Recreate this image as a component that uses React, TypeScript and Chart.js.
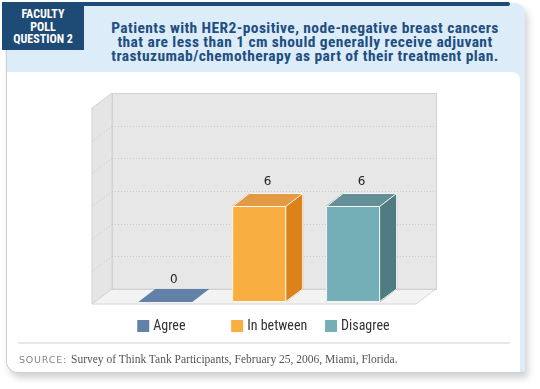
import React, { useEffect, useRef } from "react";
import { Chart, registerables } from "chart.js";

Chart.register(...registerables);

const categories = ["Agree", "In between", "Disagree"];
const values = [0, 6, 6];
const yMax = 12;
const yStep = 2;
const frontColors = ["#6181a9", "#f9ae41", "#74aeb6"];
const topColors = ["#6181a9", "#e39a45", "#638f96"];
const sideColors = ["#4f6d94", "#dc821a", "#4e7c80"];

const titleLines = [
  "Patients with HER2-positive, node-negative breast cancers",
  "that are less than 1 cm should generally receive adjuvant",
  "trastuzumab/chemotherapy as part of their treatment plan.",
];
const badgeLines = ["FACULTY", "POLL", "QUESTION 2"];
const sourceLabel = "SOURCE:";
const sourceText = "Survey of Think Tank Participants, February 25, 2006, Miami, Florida.";

const NARROW = "'Liberation Sans Narrow', 'Roboto Condensed', Roboto, sans-serif";

const WALL_DX = 20;
const WALL_DY = 15;
const BAR_DX = 17;
const BAR_DY = 13;

const threeD = {
  id: "threeD",
  beforeDatasetsDraw(chart: any) {
    const { ctx, chartArea } = chart;
    const { left: L, right: R, top: T, bottom: B } = chartArea;
    const yScale = chart.scales.y;
    ctx.save();
    // back wall
    ctx.fillStyle = "#e7e7e7";
    ctx.fillRect(L + WALL_DX, T - WALL_DY, R - L, B - T);
    // left wall
    ctx.beginPath();
    ctx.moveTo(L, T);
    ctx.lineTo(L + WALL_DX, T - WALL_DY);
    ctx.lineTo(L + WALL_DX, B - WALL_DY);
    ctx.lineTo(L, B);
    ctx.closePath();
    ctx.fillStyle = "#e5e5e5";
    ctx.fill();
    ctx.strokeStyle = "#d2d2d2";
    ctx.lineWidth = 1;
    ctx.stroke();
    // floor
    ctx.beginPath();
    ctx.moveTo(L, B);
    ctx.lineTo(R, B);
    ctx.lineTo(R + WALL_DX, B - WALL_DY);
    ctx.lineTo(L + WALL_DX, B - WALL_DY);
    ctx.closePath();
    ctx.fillStyle = "#f3f3f3";
    ctx.fill();
    ctx.strokeStyle = "#d6d6d6";
    ctx.stroke();
    // back wall border
    ctx.strokeStyle = "#d2d2d2";
    ctx.strokeRect(L + WALL_DX + 0.5, T - WALL_DY + 0.5, R - L, B - T);
    // gridlines
    ctx.setLineDash([1, 2]);
    ctx.strokeStyle = "#c9c9c9";
    for (let v = yStep; v < yMax; v += yStep) {
      const y = Math.round(yScale.getPixelForValue(v)) + 0.5;
      ctx.beginPath();
      ctx.moveTo(L + WALL_DX, y - WALL_DY);
      ctx.lineTo(R + WALL_DX, y - WALL_DY);
      ctx.stroke();
      ctx.beginPath();
      ctx.moveTo(L, y);
      ctx.lineTo(L + WALL_DX, y - WALL_DY);
      ctx.stroke();
    }
    ctx.restore();
  },
  afterDatasetsDraw(chart: any) {
    const { ctx, chartArea } = chart;
    const meta = chart.getDatasetMeta(0);
    ctx.save();
    meta.data.forEach((bar: any, i: number) => {
      const { x, y, base, width } = bar.getProps(["x", "y", "base", "width"], true);
      const x0 = x - width / 2;
      const by = base - 2;
      const hasBody = values[i] > 0;
      const yt = hasBody ? y : by;
      // front
      if (hasBody) {
        ctx.fillStyle = frontColors[i];
        ctx.fillRect(x0, yt, width, by - yt);
      }
      // top
      ctx.beginPath();
      ctx.moveTo(x0, yt);
      ctx.lineTo(x0 + width, yt);
      ctx.lineTo(x0 + width + BAR_DX, yt - BAR_DY);
      ctx.lineTo(x0 + BAR_DX, yt - BAR_DY);
      ctx.closePath();
      ctx.fillStyle = topColors[i];
      ctx.fill();
      if (hasBody) {
        // side
        ctx.beginPath();
        ctx.moveTo(x0 + width, yt);
        ctx.lineTo(x0 + width + BAR_DX, yt - BAR_DY);
        ctx.lineTo(x0 + width + BAR_DX, by - BAR_DY);
        ctx.lineTo(x0 + width, by);
        ctx.closePath();
        ctx.fillStyle = sideColors[i];
        ctx.fill();
        // white edges
        ctx.strokeStyle = "rgba(255,255,255,0.9)";
        ctx.lineWidth = 1;
        ctx.lineJoin = "round";
        ctx.beginPath();
        ctx.rect(x0 + 0.5, yt + 0.5, width - 1, by - yt - 1);
        ctx.moveTo(x0 + 0.5, yt + 0.5);
        ctx.lineTo(x0 + BAR_DX, yt - BAR_DY + 0.5);
        ctx.lineTo(x0 + width + BAR_DX - 0.5, yt - BAR_DY + 0.5);
        ctx.lineTo(x0 + width - 0.5, yt + 0.5);
        ctx.moveTo(x0 + width + BAR_DX - 0.5, yt - BAR_DY + 0.5);
        ctx.lineTo(x0 + width + BAR_DX - 0.5, by - BAR_DY);
        ctx.lineTo(x0 + width - 0.5, by - 0.5);
        ctx.stroke();
      }
      // value label
      ctx.fillStyle = "#222222";
      ctx.font = "12px 'DejaVu Sans', sans-serif";
      ctx.textAlign = "center";
      ctx.textBaseline = "middle";
      ctx.fillText(String(values[i]), x + BAR_DX / 2, yt - BAR_DY - (hasBody ? 11 : 9));
      // legend
      const ly = chartArea.bottom + 16;
      ctx.fillStyle = frontColors[i];
      ctx.fillRect(x0 - 1, ly, 12, 12);
      ctx.fillStyle = "#333333";
      ctx.font = `14px ${NARROW}`;
      ctx.textAlign = "left";
      ctx.fillText(categories[i], x0 + 15, ly + 6.5);
    });
    ctx.restore();
  },
};

function BarChart() {
  const ref = useRef<HTMLCanvasElement | null>(null);
  useEffect(() => {
    if (!ref.current) return;
    const chart = new Chart(ref.current, {
      type: "bar",
      data: {
        labels: categories,
        datasets: [
          {
            label: "Responses",
            data: values.map((v, i) => ({ x: i, y: v })) as any,
            backgroundColor: "rgba(0,0,0,0)",
            borderWidth: 0,
            barThickness: 54,
          },
        ],
      },
      options: {
        responsive: false,
        animation: false,
        devicePixelRatio: 1,
        layout: { padding: { left: 84, right: 104, top: 36, bottom: 68 } },
        plugins: { legend: { display: false }, tooltip: { enabled: false } },
        scales: {
          x: { type: "linear", offset: false, min: -0.78, max: 2.67, display: false },
          y: { min: 0, max: yMax, ticks: { stepSize: yStep }, display: false },
        },
      },
      plugins: [threeD],
    });
    return () => chart.destroy();
  }, []);
  return (
    <canvas
      ref={ref}
      width={512}
      height={300}
      style={{ position: "absolute", left: 8, top: 72, width: 512, height: 300 }}
    />
  );
}

export default function App() {
  return (
    <div
      style={{
        position: "absolute",
        left: 0,
        top: 0,
        width: 540,
        height: 389,
        background: "#ffffff",
        overflow: "hidden",
      }}
    >
      {/* card */}
      <div
        style={{
          position: "absolute",
          left: 6,
          top: 3,
          width: 519,
          height: 370,
          background: "#dcedf9",
          borderRadius: "0 10px 2px 12px",
          boxShadow: "3px 5px 7px rgba(0,0,0,0.18)",
          borderLeft: "1px solid #c9d1d9",
          borderBottom: "1px solid #c6d3de",
          boxSizing: "border-box",
        }}
      />
      {/* white panel */}
      <div
        style={{
          position: "absolute",
          left: 7,
          top: 72,
          width: 513,
          height: 300,
          background: "#ffffff",
          borderRadius: "0 8px 0 11px",
        }}
      />
      {/* top dark line */}
      <div
        style={{
          position: "absolute",
          left: 2,
          top: 2,
          width: 508,
          height: 4,
          background: "#1e4a76",
          borderRadius: "0 2px 2px 0",
        }}
      />
      {/* badge */}
      <div
        style={{
          position: "absolute",
          left: 2,
          top: 2,
          width: 82,
          height: 48,
          background: "#1e4a76",
          color: "#ffffff",
          fontFamily: NARROW,
          fontWeight: 700,
          fontSize: 12,
          lineHeight: "12.5px",
          textAlign: "center",
          paddingTop: 6,
          boxSizing: "border-box",
        }}
      >
        {badgeLines.map((l) => (
          <div key={l}>{l}</div>
        ))}
      </div>
      {/* title */}
      <div
        style={{
          position: "absolute",
          left: 90,
          top: 21,
          width: 430,
          color: "#1f4f80",
          fontFamily: NARROW,
          fontWeight: 700,
          fontSize: 15.5,
          letterSpacing: 0.4,
          lineHeight: "14px",
          textAlign: "center",
        }}
      >
        {titleLines.map((l) => (
          <div key={l}>{l}</div>
        ))}
      </div>
      <BarChart />
      {/* divider */}
      <div
        style={{
          position: "absolute",
          left: 18,
          top: 342,
          width: 492,
          height: 2,
          background: "#e8e8e8",
        }}
      />
      {/* source */}
      <div
        style={{
          position: "absolute",
          left: 19,
          top: 351,
          whiteSpace: "nowrap",
          lineHeight: "14px",
          color: "#555555",
        }}
      >
        <span
          style={{
            fontFamily: "'DejaVu Sans', sans-serif",
            fontSize: 9.5,
            letterSpacing: 0.8,
            color: "#858585",
          }}
        >
          {sourceLabel}
        </span>{" "}
        <span style={{ fontFamily: "'Liberation Serif', serif", fontSize: 11.5 }}>{sourceText}</span>
      </div>
    </div>
  );
}
